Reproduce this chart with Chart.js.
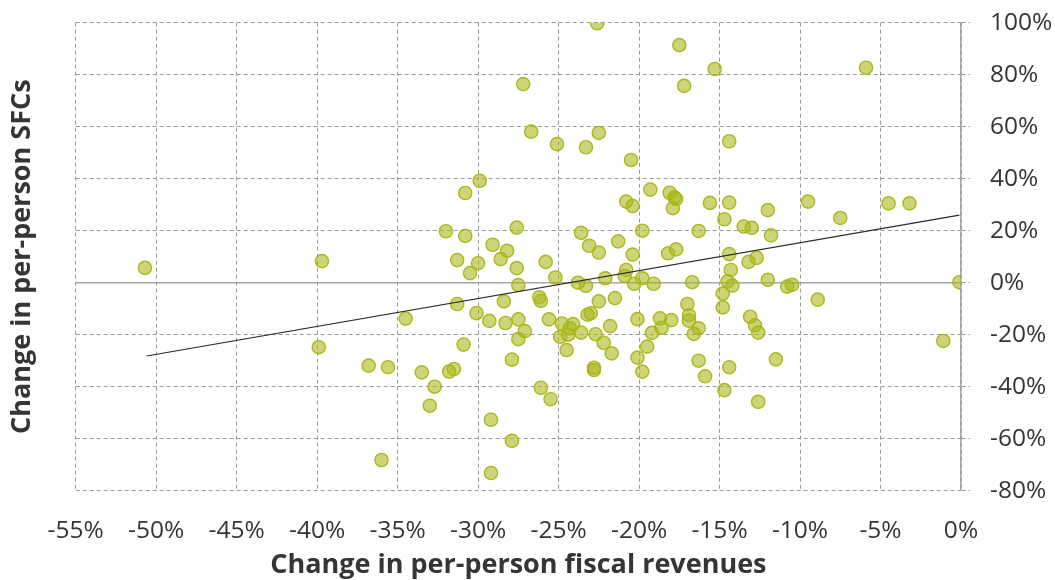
<!DOCTYPE html>
<html>
<head>
<meta charset="utf-8">
<script src="https://cdn.jsdelivr.net/npm/chart.js@4.4.1/dist/chart.umd.min.js"></script>
<style>
  body { margin: 0; background: #fff; }
  #wrap { width: 1055px; height: 580px; }
</style>
</head>
<body>
<div id="wrap"><canvas id="scatterChart" width="1055" height="580"></canvas></div>
<script>
  // change in per-person fiscal revenues (%), one per point
  const revenueChange = [
    -22.6, -27.2, -26.7, -25.1, -23.3, -22.5, -20.5, -29.9, -30.8, -19.3,
    -20.8, -20.4, -32.0, -30.8, -27.6, -29.1, -28.2, -23.6, -23.1, -22.5,
    -21.3, -19.8, -20.4, -31.3, -30.0, -28.6, -25.8, -17.5, -15.3, -17.2,
    -5.9, -14.4, -18.1, -17.8, -17.7, -17.9, -15.6, -14.4, -12.0, -9.5,
    -7.5, -4.5, -3.2, -14.7, -13.5, -13.0, -11.8, -16.3, -18.2, -17.7,
    -14.4, -13.2, -12.7, -14.3, -19.8, -19.1, -16.7, -14.5, -14.2, -14.8,
    -12.0, -10.8, -10.5, -8.9, -0.1, -17.0, -14.8, -16.9, -16.9, -18.7,
    -18.0, -20.1, -18.6, -19.2, -16.3, -16.6, -13.1, -12.8, -12.6, -19.5,
    -20.1, -19.8, -16.3, -15.9, -14.4, -11.5, -14.7, -12.6, -1.1, -30.5,
    -27.6, -25.2, -27.5, -23.8, -23.3, -22.1, -20.8, -20.9, -20.3, -26.2,
    -26.1, -28.4, -31.3, -30.1, -29.3, -28.3, -27.5, -27.1, -27.5, -34.5,
    -25.6, -24.8, -24.1, -24.3, -24.4, -24.9, -23.6, -24.5, -23.2, -23.0,
    -22.5, -21.5, -21.8, -22.7, -22.2, -21.7, -22.8, -22.8, -30.9, -36.8,
    -35.6, -33.5, -31.8, -31.5, -32.7, -33.0, -27.9, -26.1, -25.5, -29.2,
    -27.9, -36.0, -29.2, -50.7, -39.7, -39.9
  ];

  // change in per-person SFCs (%), same order
  const sfcChange = [
    99.8, 76.4, 58.1, 53.3, 52.1, 57.6, 47.2, 39.2, 34.5, 35.8,
    31.2, 29.5, 19.8, 18.0, 21.2, 14.6, 12.3, 19.2, 14.2, 11.6,
    15.9, 20.0, 10.8, 8.7, 7.5, 9.1, 8.0, 91.4, 82.2, 75.7,
    82.7, 54.4, 34.6, 32.8, 32.2, 28.7, 30.7, 30.8, 27.9, 31.2,
    24.9, 30.5, 30.5, 24.4, 21.6, 21.1, 18.2, 19.9, 11.3, 12.8,
    11.0, 8.0, 9.6, 4.9, 1.7, -0.4, 0.2, 0.5, -1.1, -4.2,
    1.1, -1.5, -0.8, -6.5, 0.2, -8.2, -9.5, -12.5, -14.6, -13.7,
    -14.4, -14.0, -17.3, -19.3, -17.5, -19.7, -13.1, -16.4, -19.2, -24.6,
    -28.8, -34.2, -30.0, -36.0, -32.5, -29.5, -41.3, -45.8, -22.4, 3.7,
    5.6, 2.0, -0.9, 0.0, -1.2, 1.7, 4.9, 2.6, -0.4, -5.6,
    -7.0, -7.2, -8.2, -11.7, -14.7, -15.5, -14.1, -18.6, -21.7, -13.8,
    -14.1, -15.7, -15.9, -17.5, -20.0, -20.8, -19.2, -25.9, -12.3, -11.8,
    -7.2, -5.9, -16.7, -19.8, -23.1, -27.2, -33.6, -32.7, -23.8, -31.9,
    -32.5, -34.5, -34.2, -33.2, -40.0, -47.3, -29.6, -40.4, -44.8, -52.7,
    -60.8, -68.2, -73.2, 5.7, 8.3, -24.8
  ];

  // trend line ends
  const trendX = [-50.6, -0.1];
  const trendY = [-28.2, 26.0];

  // axis ranges
  const xMin = -55, xMax = 0, xStep = 5;
  const yMin = -80, yMax = 100, yStep = 20;

  const textColor = "#353535";
  const gridColor = "#999999";
  const axisColor = "#a6a6a6";
  const tickFont = { family: "'Open Sans'", size: 24.5 };
  const titleFont = { family: "'Open Sans'", size: 27, weight: "bold", lineHeight: 1 };

  const zeroLine = {
    id: "zeroLine",
    beforeDatasetsDraw(chart) {
      const { ctx, chartArea, scales } = chart;
      const y = scales.y.getPixelForValue(0);
      ctx.save();
      ctx.strokeStyle = axisColor;
      ctx.lineWidth = 1.5;
      ctx.beginPath();
      ctx.moveTo(chartArea.left, y);
      ctx.lineTo(chartArea.right, y);
      ctx.stroke();
      ctx.restore();
    },
  };

  // keep label overhang from pushing the plot area around
  function noOverhang(scale) {
    scale.paddingTop = 0;
    scale.paddingBottom = 0;
    scale.paddingLeft = 0;
    scale.paddingRight = 0;
  }

  const ctx = document.getElementById("scatterChart").getContext("2d");

  const chart = new Chart(ctx, {
    type: "scatter",
    data: {
      datasets: [
        {
          type: "line",
          label: "trend",
          data: trendX.map((x, i) => ({ x: x, y: trendY[i] })),
          borderColor: "#2a2a2a",
          borderWidth: 1.2,
          pointRadius: 0,
          fill: false,
          order: 0,
        },
        {
          label: "points",
          data: revenueChange.map((x, i) => ({ x: x, y: sfcChange[i] })),
          backgroundColor: "rgba(168,182,22,0.58)",
          borderColor: "rgba(168,182,22,0.95)",
          borderWidth: 1.4,
          pointRadius: 6.6,
          order: 1,
        },
      ],
    },
    options: {
      responsive: false,
      animation: false,
      layout: { padding: { top: 22.7, right: 0, bottom: 0, left: 0 } },
      plugins: {
        legend: { display: false },
        tooltip: { enabled: false },
      },
      scales: {
        x: {
          type: "linear",
          min: xMin,
          max: xMax,
          afterFit(scale) { scale.height = 89.3; noOverhang(scale); },
          grid: { color: gridColor, lineWidth: 1, drawTicks: false },
          border: { display: false, dash: [4, 3] },
          ticks: {
            stepSize: xStep,
            padding: 26,
            color: textColor,
            font: tickFont,
            callback: (v) => v + "%",
          },
          title: {
            display: true,
            text: "Change in per-person fiscal revenues",
            color: textColor,
            font: titleFont,
            padding: { top: 0, bottom: 1 },
          },
        },
        y: {
          type: "linear",
          position: "right",
          min: yMin,
          max: yMax,
          afterFit(scale) { scale.width = 94; noOverhang(scale); },
          grid: {
            color: gridColor,
            lineWidth: 1,
            tickLength: 9,
            tickBorderDash: [4, 3],
          },
          border: { display: true, color: axisColor, width: 1.5, dash: [4, 3] },
          ticks: {
            stepSize: yStep,
            padding: 20,
            color: textColor,
            font: tickFont,
            callback: (v) => v + "%",
          },
        },
        yTitle: {
          type: "linear",
          position: "left",
          afterFit(scale) { scale.width = 75.7; noOverhang(scale); },
          grid: { display: false },
          border: { display: false },
          ticks: { display: false },
          title: {
            display: true,
            text: "Change in per-person SFCs",
            color: textColor,
            font: titleFont,
            padding: { top: 8.5, bottom: 0 },
          },
        },
      },
    },
    plugins: [zeroLine],
  });
</script>
</body>
</html>
